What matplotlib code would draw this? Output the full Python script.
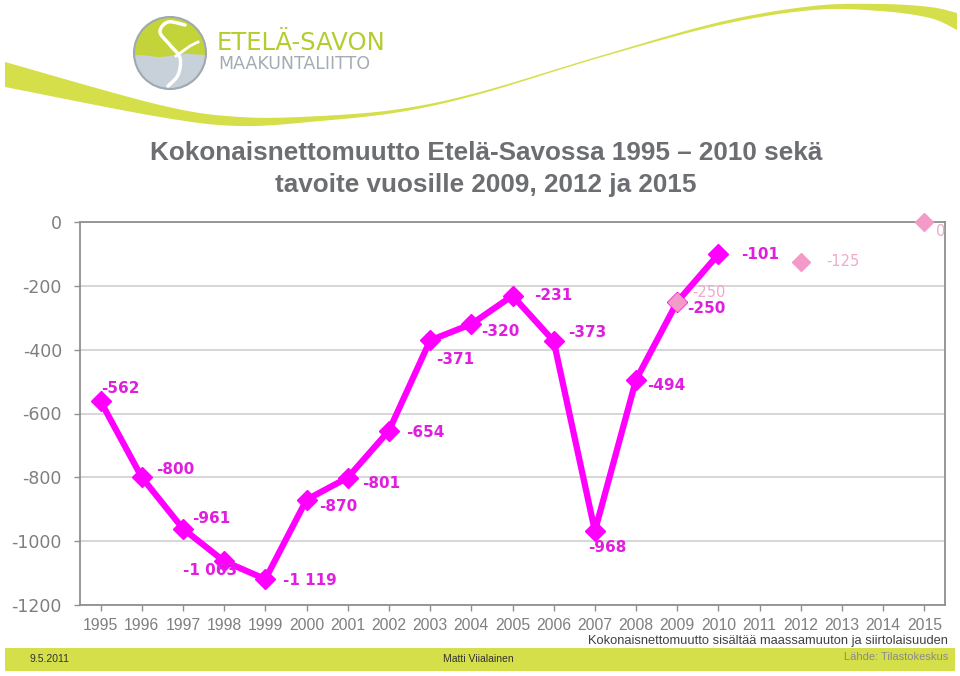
import numpy as np
import matplotlib.pyplot as plt
import matplotlib.patches as mpatches

# data
years = list(range(1995, 2016))
actual_years = list(range(1995, 2011))
actual = [-562, -800, -961, -1063, -1119, -870, -801, -654, -371, -320,
          -231, -373, -968, -494, -250, -101]
actual_labels = ['-562', '-800', '-961', '-1 063', '-1 119', '-870', '-801', '-654',
                 '-371', '-320', '-231', '-373', '-968', '-494', '-250', '-101']
target_years = [2009, 2012, 2015]
target = [-250, -125, 0]
yticks = [0, -200, -400, -600, -800, -1000, -1200]

# label offsets in points (dx, dy)
actual_off = [(14, 9), (24, 6), (20, 7), (-10, -7), (32, -1), (23, -5), (24, -4), (26, -1),
              (18, -14), (21, -5), (29, 0), (24, 6), (9, -12), (22, -4), (21, -5), (30, 0)]
target_off = [(23, 7), (30, 0), (12, -7)]

magenta = '#FF00FF'
label_col = '#E01EE0'
pink = '#F49AC8'
gray_txt = '#7f7f7f'
lime = '#d4df4a'


def smooth(pts, n=20):
    # catmull-rom through the given points
    p = np.array(pts, dtype=float)
    p = np.vstack([p[0], p, p[-1]])
    out = []
    for i in range(1, len(p) - 2):
        t = np.linspace(0, 1, n, endpoint=False)[:, None]
        p0, p1, p2, p3 = p[i - 1], p[i], p[i + 1], p[i + 2]
        out.append(0.5 * (2 * p1 + (-p0 + p2) * t + (2 * p0 - 5 * p1 + 4 * p2 - p3) * t ** 2
                          + (-p0 + 3 * p1 - 3 * p2 + p3) * t ** 3))
    out.append(p[-2][None, :])
    return np.vstack(out)


fig = plt.figure(figsize=(9.6, 6.76), dpi=100)

# background decoration in pixel coordinates
bg = fig.add_axes([0, 0, 1, 1])
bg.set_xlim(0, 960)
bg.set_ylim(676, 0)
bg.axis('off')

top_edge = smooth([(5, 62), (160, 105), (240, 117), (320, 116), (400, 109), (480, 92),
                   (600, 56), (720, 22), (813, 6), (880, 4), (930, 7), (957, 13)])
bot_edge = smooth([(5, 87), (160, 117), (240, 126), (320, 121), (400, 112), (480, 94),
                   (600, 57.5), (720, 25), (813, 10), (880, 11), (930, 18), (957, 30)])
band = np.vstack([top_edge, bot_edge[::-1]])
bg.add_patch(mpatches.Polygon(band, closed=True, facecolor=lime, edgecolor='none'))

# logo
circ = mpatches.Ellipse((170, 53), 72, 72, facecolor='#c3d43a', edgecolor='none')
bg.add_patch(circ)
lower = smooth([(120, 58), (140, 55), (160, 57), (185, 54), (215, 56)])
lower = np.vstack([lower, [(215, 95), (120, 95)]])
gp = mpatches.Polygon(lower, closed=True, facecolor='#c8d0d9', edgecolor='none')
bg.add_patch(gp)
gp.set_clip_path(circ)
s_curve = smooth([(185, 25), (168, 22), (160, 32), (170, 45), (180, 58), (178, 75), (168, 86)])
bg.plot(s_curve[:, 0], s_curve[:, 1], color='white', lw=2.5, solid_capstyle='round')
bg.plot([176, 190, 198], [56, 46, 42], color='white', lw=2)
bg.add_patch(mpatches.Ellipse((170, 53), 72, 72, facecolor='none', edgecolor='#a0a8b0', lw=1.5))
bg.text(217, 43, 'ETELÄ-SAVON', fontsize=17.5, color='#b5cc2e', va='center', ha='left',
        family='DejaVu Sans')
bg.text(218, 64, 'MAAKUNTALIITTO', fontsize=12.5, color='#a3abb3', va='center', ha='left',
        family='DejaVu Sans')

# title
bg.text(486, 153, 'Kokonaisnettomuutto Etelä-Savossa 1995 – 2010 sekä', fontsize=18.8,
        fontweight='bold', color='#6d6e71', ha='center', va='center', family='Liberation Sans')
bg.text(486, 185, 'tavoite vuosille 2009, 2012 ja 2015', fontsize=18.8,
        fontweight='bold', color='#6d6e71', ha='center', va='center', family='Liberation Sans')

# footer
bg.add_patch(mpatches.Rectangle((5, 648), 950, 23, facecolor=lime, edgecolor='none'))
bg.text(30, 659, '9.5.2011', fontsize=7.5, color='#333333', va='center', family='Liberation Sans')
bg.text(443, 659, 'Matti Viialainen', fontsize=7.5, color='#333333', va='center',
        family='Liberation Sans')
bg.text(948, 657, 'Lähde: Tilastokeskus', fontsize=8, color='#8a8a8a', va='center', ha='right',
        family='Liberation Sans')
bg.text(948, 641, 'Kokonaisnettomuutto sisältää maassamuuton ja siirtolaisuuden', fontsize=9.3,
        color='#404040', va='center', ha='right', family='Liberation Sans')

# chart
ax = fig.add_axes([80 / 960, 71 / 676, 865 / 960, 383 / 676])
ax.set_xlim(1994.5, 2015.5)
ax.set_ylim(-1200, 0)
ax.set_yticks(yticks)
ax.set_xticks(years)
ax.set_xticklabels([str(y) for y in years], family='Liberation Sans', fontsize=11.3,
                   color=gray_txt)
ax.set_yticklabels([str(v) for v in yticks], family='DejaVu Sans', fontsize=12.5, color=gray_txt)
ax.grid(axis='y', color='#d0d0d0', lw=1.2)
ax.set_axisbelow(True)
for s in ax.spines.values():
    s.set_color('#909090')
    s.set_linewidth(1.3)
ax.tick_params(axis='both', color='#909090', length=4, width=1)
ax.tick_params(axis='y', pad=9)
ax.tick_params(axis='x', pad=5)

ax.plot(actual_years, actual, color=magenta, lw=4.5, marker='D', ms=10, zorder=3)
ax.plot(target_years, target, ls='none', color=pink, marker='D', ms=9, zorder=4, clip_on=False)

for x, v, t, off in zip(actual_years, actual, actual_labels, actual_off):
    ax.annotate(t, (x, v), xytext=off, textcoords='offset points', ha='center', va='center',
                color=label_col, fontsize=11, fontweight='bold', family='DejaVu Sans')
for x, v, off in zip(target_years, target, target_off):
    ax.annotate(str(v), (x, v), xytext=off, textcoords='offset points', ha='center', va='center',
                color='#F0A8CC', fontsize=10.5, family='DejaVu Sans', annotation_clip=False)

fig.savefig('out.png', dpi=100)
